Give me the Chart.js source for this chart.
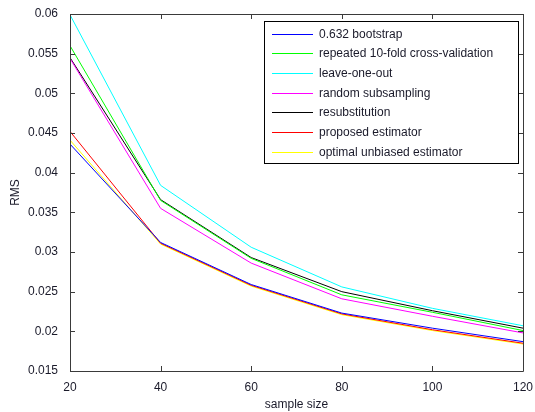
<!DOCTYPE html>
<html>
<head>
<meta charset="utf-8">
<script src="https://cdn.jsdelivr.net/npm/chart.js@4/dist/chart.umd.min.js"></script>
<style>
  html, body { margin: 0; padding: 0; background: #fff; }
  canvas { display: block; }
</style>
</head>
<body>
<canvas id="rms" width="535" height="412"></canvas>
<script>
// RMS of error estimators versus sample size
const sampleSizes = [20, 40, 60, 80, 100, 120];

const bootstrap632   = [0.0436, 0.0312, 0.0259, 0.0223, 0.0204, 0.0187];
const repeatedCV     = [0.0560, 0.0365, 0.0292, 0.0246, 0.0224, 0.0201];
const leaveOneOut    = [0.0599, 0.0384, 0.0306, 0.0256, 0.0229, 0.0207];
const randomSubsamp  = [0.0544, 0.0355, 0.0286, 0.0241, 0.0219, 0.0198];
const resubstitution = [0.0545, 0.0366, 0.0293, 0.0250, 0.0226, 0.0204];
const proposed       = [0.0452, 0.0311, 0.0258, 0.0222, 0.0202, 0.0185];
const optimal        = [0.0441, 0.0310, 0.0257, 0.0221, 0.0201, 0.0184];

const seriesLabels = [
  "0.632 bootstrap",
  "repeated 10-fold cross-validation",
  "leave-one-out",
  "random subsampling",
  "resubstitution",
  "proposed estimator",
  "optimal unbiased estimator",
];
const seriesColors = ["#0000ff", "#00ff00", "#00ffff", "#ff00ff", "#000000", "#ff0000", "#ffff00"];
const seriesValues = [bootstrap632, repeatedCV, leaveOneOut, randomSubsamp, resubstitution, proposed, optimal];

const yTicks = [0.015, 0.02, 0.025, 0.03, 0.035, 0.04, 0.045, 0.05, 0.055, 0.06];

const FONT = "Liberation Sans, Arial, sans-serif";
const AXIS_COLOR = "#3a3a3a";
const TEXT_COLOR = "#1a1a2a";

const toPoints = (values) => values.map((y, i) => ({ x: sampleSizes[i], y }));

// matlab style box with inward ticks + boxed legend
const matlabAxes = {
  id: "matlabAxes",
  afterDatasetsDraw(chart) {
    const { ctx, chartArea: a, scales } = chart;
    const tl = 5;
    ctx.save();
    ctx.strokeStyle = AXIS_COLOR;
    ctx.lineWidth = 1;
    ctx.beginPath();
    ctx.rect(Math.round(a.left) + 0.5, Math.round(a.top) + 0.5,
      Math.round(a.right - a.left), Math.round(a.bottom - a.top));
    sampleSizes.forEach((v) => {
      const x = Math.round(scales.x.getPixelForValue(v)) + 0.5;
      ctx.moveTo(x, a.bottom); ctx.lineTo(x, a.bottom - tl);
      ctx.moveTo(x, a.top); ctx.lineTo(x, a.top + tl);
    });
    yTicks.forEach((v) => {
      const y = Math.round(scales.y.getPixelForValue(v)) + 0.5;
      ctx.moveTo(a.left, y); ctx.lineTo(a.left + tl, y);
      ctx.moveTo(a.right, y); ctx.lineTo(a.right - tl, y);
    });
    ctx.stroke();

    // legend
    const boxW = 254, rowH = 19.7, boxH = 142;
    const bx = Math.round(a.right - 5 - boxW);
    const by = Math.round(a.top + 7);
    ctx.fillStyle = "#fff";
    ctx.fillRect(bx, by, boxW, boxH);
    ctx.strokeStyle = "#000";
    ctx.strokeRect(bx + 0.5, by + 0.5, boxW, boxH);
    ctx.font = "12px " + FONT;
    ctx.textBaseline = "middle";
    chart.data.datasets.forEach((ds, i) => {
      const cy = Math.round(by + 12.5 + i * rowH);
      ctx.fillStyle = ds.borderColor;
      ctx.fillRect(bx + 8, cy, 41, 1);
      ctx.fillStyle = TEXT_COLOR;
      ctx.fillText(ds.label, bx + 55, cy + 0.5);
    });
    ctx.restore();
  },
};

new Chart(document.getElementById("rms").getContext("2d"), {
  type: "line",
  data: {
    datasets: seriesValues.map((values, i) => ({
      label: seriesLabels[i],
      data: toPoints(values),
      borderColor: seriesColors[i],
      borderWidth: 1,
      pointRadius: 0,
      fill: false,
      tension: 0,
    })),
  },
  options: {
    responsive: false,
    animation: false,
    devicePixelRatio: 1,
    layout: { padding: { top: 14, right: 12, left: 0, bottom: 0 } },
    plugins: { legend: { display: false }, tooltip: { enabled: false } },
    scales: {
      x: {
        type: "linear",
        min: 20,
        max: 120,
        afterBuildTicks: (scale) => { scale.ticks = sampleSizes.map((v) => ({ value: v })); },
        afterFit: (scale) => { scale.height = 41; },
        grid: { display: false },
        border: { display: false },
        ticks: { color: TEXT_COLOR, font: { family: FONT, size: 12 }, padding: 1, maxRotation: 0 },
        title: { display: true, text: "sample size", color: TEXT_COLOR, font: { family: FONT, size: 12 }, padding: { top: 0, bottom: 0 } },
      },
      y: {
        type: "linear",
        min: 0.015,
        max: 0.06,
        afterBuildTicks: (scale) => { scale.ticks = yTicks.map((v) => ({ value: v })); },
        afterFit: (scale) => { scale.width = 70; },
        grid: { display: false },
        border: { display: false },
        ticks: {
          color: TEXT_COLOR,
          font: { family: FONT, size: 12 },
          padding: 4,
          callback: (v) => String(+v.toFixed(3)),
        },
        title: { display: true, text: "RMS", color: TEXT_COLOR, font: { family: FONT, size: 12 }, padding: { top: 8, bottom: 0 } },
      },
    },
  },
  plugins: [matlabAxes],
});
</script>
</body>
</html>
